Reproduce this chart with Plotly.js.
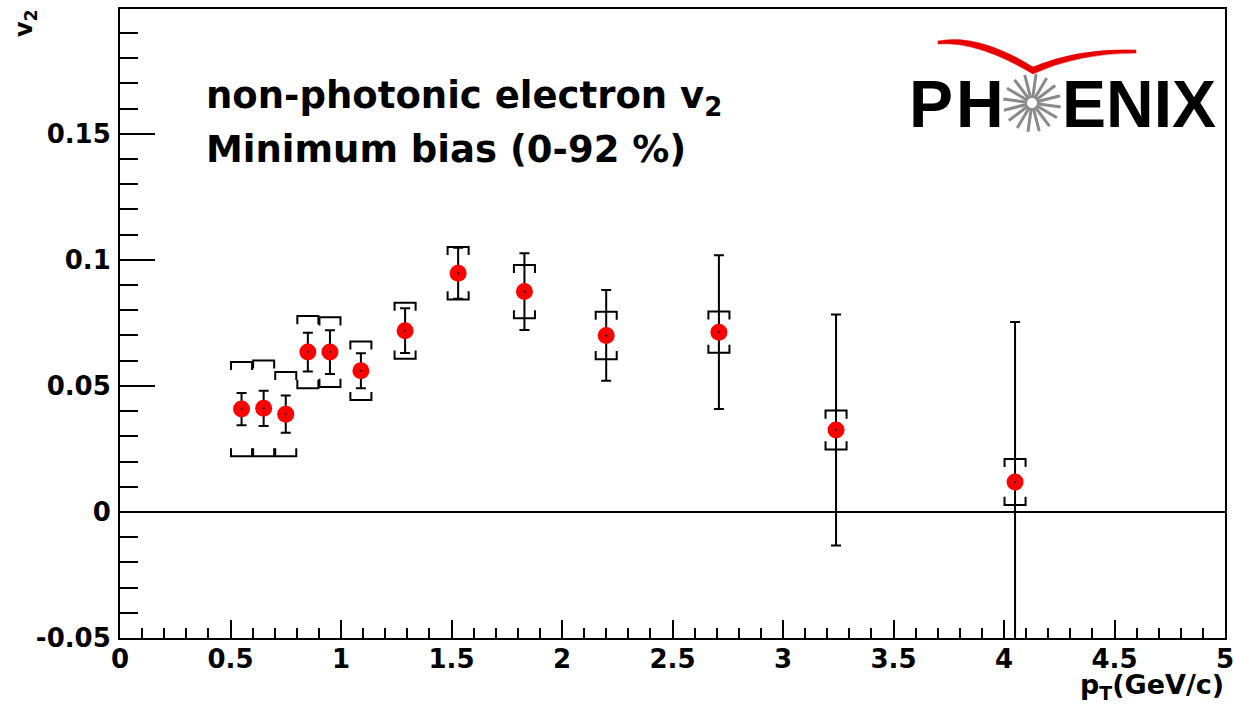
<!DOCTYPE html>
<html>
<head>
<meta charset="utf-8">
<script src="https://cdn.plot.ly/plotly-3.0.1.min.js"></script>
<style>html,body{margin:0;padding:0;background:#fff;}</style>
</head>
<body>
<div id="chart" style="width:1234px;height:705px;"></div>
<script>
// ---- data ----
var pT      = [0.55, 0.65, 0.75, 0.85, 0.95, 1.09, 1.29, 1.53, 1.83, 2.20, 2.71, 3.24, 4.05];
var v2      = [0.0408, 0.0411, 0.0388, 0.0634, 0.0634, 0.0560, 0.0719, 0.0947, 0.0874, 0.0700, 0.0713, 0.0325, 0.0119];
var statErr = [0.0064, 0.0070, 0.0074, 0.0077, 0.0087, 0.0069, 0.0089, 0.0101, 0.0152, 0.0180, 0.0305, 0.0458, 0.0634];
var sysErr  = [0.0187, 0.0190, 0.0167, 0.0143, 0.0138, 0.0116, 0.0111, 0.0104, 0.0106, 0.0094, 0.0082, 0.0077, 0.0091];
var yTickVals = [-0.05, 0, 0.05, 0.1, 0.15];
var yTickText = ['-0.05', '0', '0.05', '0.1', '0.15'];
var xTickVals = [0, 0.5, 1, 1.5, 2, 2.5, 3, 3.5, 4, 4.5, 5];
var xTickText = ['0', '0.5', '1', '1.5', '2', '2.5', '3', '3.5', '4', '4.5', '5'];

// ---- styling constants ----
var W = 1234, H = 705, ML = 120, MR = 9, MT = 9, MB = 67;
var PW = W - ML - MR, PH = H - MT - MB;
function px2x(px){ return (px - ML) / PW; }
function py2y(py){ return (H - MB - py) / PH; }
var bracketHalfW = 0.0476;   // x units
var bracketTick = 0.0032;    // y units

// systematic-error brackets
var bx = [], by = [];
for (var i = 0; i < pT.length; i++) {
  var x = pT[i], y = v2[i], s = sysErr[i];
  bx.push(x - bracketHalfW, x - bracketHalfW, x + bracketHalfW, x + bracketHalfW, null);
  by.push(y + s - bracketTick, y + s, y + s, y + s - bracketTick, null);
  bx.push(x - bracketHalfW, x - bracketHalfW, x + bracketHalfW, x + bracketHalfW, null);
  by.push(y - s + bracketTick, y - s, y - s, y - s + bracketTick, null);
}

var minorY = [];
for (var k = -5; k <= 19; k++) minorY.push(k / 100);
var minorX = [];
for (var m = 0; m <= 50; m++) minorX.push(m / 10);

var traces = [
  {x: bx, y: by, mode: 'lines', type: 'scatter', line: {color: '#000', width: 2}, hoverinfo: 'skip', showlegend: false},
  {x: pT, y: v2, mode: 'markers', type: 'scatter',
   marker: {color: 'rgb(255,0,0)', size: 17, symbol: 'circle', line: {width: 0}},
   error_y: {type: 'data', array: statErr, visible: true, color: '#000', thickness: 2, width: 5},
   showlegend: false},
  {x: pT, y: v2, mode: 'markers', type: 'scatter', marker: {color: '#000', size: 2}, hoverinfo: 'skip', showlegend: false}
];

var tickFont = {family: 'DejaVu Sans', size: 26, color: '#000', weight: 'bold'};

// PHOENIX logo pieces (decoration)
var shapes = [];
var cx = 1032, cy = 103, rIn = 5, rOut = 29;
for (var r = 0; r < 16; r++) {
  var a = (r * 22.5 + 8) * Math.PI / 180;
  shapes.push({type: 'line', xref: 'paper', yref: 'paper',
    x0: px2x(cx + rIn * Math.cos(a)), y0: py2y(cy + rIn * Math.sin(a)),
    x1: px2x(cx + rOut * Math.cos(a)), y1: py2y(cy + rOut * Math.sin(a)),
    line: {color: '#8a8a8a', width: 3}});
}
function P(px, py){ return px2x(px).toFixed(5) + ',' + py2y(py).toFixed(5); }
var swoosh = 'M' + P(938, 41) + ' Q' + P(978, 33) + ' ' + P(1033, 67) +
             ' Q' + P(1078, 48) + ' ' + P(1136, 50) +
             ' L' + P(1136, 53) + ' Q' + P(1078, 53) + ' ' + P(1033, 74) +
             ' Q' + P(978, 41) + ' ' + P(938, 44) + ' Z';
shapes.push({type: 'path', xref: 'paper', yref: 'paper', path: swoosh,
  fillcolor: 'rgb(230,0,0)', line: {color: 'rgb(230,0,0)', width: 0.5}});

var annFont = {family: 'DejaVu Sans', size: 37, color: '#000', weight: 'bold'};
var logoFont = {family: 'Liberation Sans', size: 66, color: '#000', weight: 'bold'};
var annotations = [
  {xref: 'paper', yref: 'paper', x: px2x(204), y: py2y(98), xanchor: 'left', yanchor: 'middle',
   text: 'non-photonic electron v<sub>2</sub>', showarrow: false, font: annFont},
  {xref: 'paper', yref: 'paper', x: px2x(204), y: py2y(149), xanchor: 'left', yanchor: 'middle',
   text: 'Minimum bias (0-92 %)', showarrow: false, font: annFont},
  {xref: 'paper', yref: 'paper', x: px2x(954), y: py2y(104), xanchor: 'right', yanchor: 'middle',
   text: 'P', showarrow: false, font: logoFont, borderpad: 0},
  {xref: 'paper', yref: 'paper', x: px2x(955), y: py2y(104), xanchor: 'left', yanchor: 'middle',
   text: 'H', showarrow: false, font: logoFont, borderpad: 0},
  {xref: 'paper', yref: 'paper', x: px2x(1060), y: py2y(104), xanchor: 'left', yanchor: 'middle',
   text: 'ENIX', showarrow: false, font: logoFont},
  {xref: 'paper', yref: 'paper', x: px2x(25), y: py2y(24), xanchor: 'center', yanchor: 'middle',
   text: 'v<sub>2</sub>', textangle: -90, showarrow: false,
   font: {family: 'DejaVu Sans', size: 24, color: '#000', weight: 'bold'}},
  {xref: 'paper', yref: 'paper', x: px2x(1226), y: py2y(686), xanchor: 'right', yanchor: 'middle',
   text: 'p<sub>T</sub>(GeV/c)', showarrow: false,
   font: {family: 'DejaVu Sans', size: 27, color: '#000', weight: 'bold'}}
];

var layout = {
  width: W, height: H,
  margin: {l: ML, r: MR, t: MT, b: MB, pad: 0},
  paper_bgcolor: '#fff', plot_bgcolor: '#fff',
  showlegend: false,
  xaxis: {range: [0, 5], showgrid: false, zeroline: false,
    showline: true, mirror: true, linecolor: '#000', linewidth: 2,
    ticks: 'inside', ticklen: 18, tickwidth: 2, tickcolor: '#000',
    tickmode: 'array', tickvals: xTickVals, ticktext: xTickText,
    minor: {ticks: 'inside', ticklen: 10, tickwidth: 2, tickcolor: '#000', tickmode: 'array', tickvals: minorX, showgrid: false},
    tickfont: tickFont, ticklabelstandoff: -3, ticklabeloverflow: 'allow'},
  yaxis: {range: [-0.05, 0.1995], showgrid: false,
    zeroline: true, zerolinecolor: '#000', zerolinewidth: 2,
    showline: true, mirror: true, linecolor: '#000', linewidth: 2,
    ticks: 'inside', ticklen: 35, tickwidth: 2, tickcolor: '#000',
    tickmode: 'array', tickvals: yTickVals, ticktext: yTickText,
    minor: {ticks: 'inside', ticklen: 18, tickwidth: 2, tickcolor: '#000', tickmode: 'array', tickvals: minorY, showgrid: false},
    tickfont: tickFont, ticklabelstandoff: 2},
  shapes: shapes,
  annotations: annotations
};

Plotly.newPlot('chart', traces, layout, {displayModeBar: false, staticPlot: true});
</script>
</body>
</html>
